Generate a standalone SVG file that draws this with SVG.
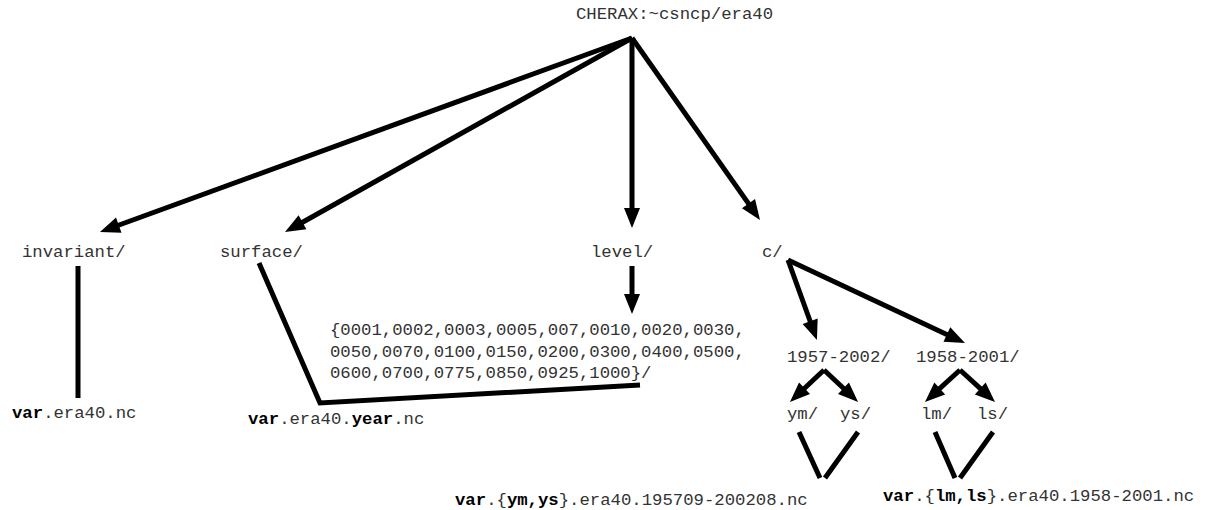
<svg xmlns="http://www.w3.org/2000/svg" width="1214" height="510" viewBox="0 0 1214 510">
<defs>
<marker id="ah" markerUnits="userSpaceOnUse" markerWidth="22" markerHeight="18" refX="4" refY="0" orient="auto" overflow="visible">
<path d="M0,-8 L20,0 L0,8 z" fill="#000"/>
</marker>
<style>
text{font-family:"Liberation Mono","Courier New",monospace;font-size:17.3px;fill:#333}
.b{font-weight:bold;fill:#000}
.c{fill:none;stroke:#000;stroke-width:5;stroke-linejoin:miter}
.a{marker-end:url(#ah)}
</style>
</defs>
<rect width="1214" height="510" fill="#fff"/>
<g id="connectors">
<line class="c a" x1="632" y1="38" x2="115" y2="226.5"/>
<line class="c a" x1="632" y1="38" x2="299" y2="224.2"/>
<line class="c a" x1="632" y1="38" x2="632" y2="212"/>
<line class="c a" x1="632" y1="38" x2="750.8" y2="206.9"/>
<line class="c" x1="78" y1="266" x2="78" y2="398"/>
<polyline class="c" points="259,263 320,403 640,385"/>
<line class="c a" x1="632" y1="266" x2="632" y2="298"/>
<line class="c a" x1="788" y1="260" x2="811.5" y2="325"/>
<line class="c a" x1="788" y1="260" x2="950.5" y2="336.2"/>
<line class="c a" x1="824" y1="370" x2="801.6" y2="391"/>
<line class="c a" x1="824" y1="370" x2="846.4" y2="391"/>
<line class="c a" x1="960" y1="370" x2="936.8" y2="391.2"/>
<line class="c a" x1="960" y1="370" x2="983.2" y2="391.2"/>
<line class="c" x1="799" y1="432" x2="820" y2="478"/>
<line class="c" x1="858" y1="432" x2="825" y2="478"/>
<line class="c" x1="935" y1="432" x2="955" y2="478"/>
<line class="c" x1="993" y1="432" x2="960" y2="478"/>
</g>
<g id="root"><text x="576" y="19">CHERAX:~csncp/era40</text></g>
<g id="invariant"><text x="22" y="257">invariant/</text></g>
<g id="surface"><text x="220" y="257">surface/</text></g>
<g id="level"><text x="591" y="257">level/</text></g>
<g id="c"><text x="762" y="257">c/</text></g>
<g id="levels">
<text x="330" y="335">{0001,0002,0003,0005,007,0010,0020,0030,</text>
<text x="330" y="357">0050,0070,0100,0150,0200,0300,0400,0500,</text>
<text x="330" y="378">0600,0700,0775,0850,0925,1000}/</text>
</g>
<g id="invfile"><text x="12" y="418"><tspan class="b">var</tspan>.era40.nc</text></g>
<g id="surffile"><text x="248" y="424"><tspan class="b">var</tspan>.era40.<tspan class="b">year</tspan>.nc</text></g>
<g id="y1957"><text x="787" y="362">1957-2002/</text></g>
<g id="y1958"><text x="916" y="362">1958-2001/</text></g>
<g id="ym"><text x="787" y="419">ym/</text></g>
<g id="ys"><text x="840" y="419">ys/</text></g>
<g id="lm"><text x="921" y="419">lm/</text></g>
<g id="ls"><text x="977" y="419">ls/</text></g>
<g id="file1957"><text x="455" y="505"><tspan class="b">var</tspan>.{<tspan class="b">ym,ys</tspan>}.era40.195709-200208.nc</text></g>
<g id="file1958"><text x="883" y="501"><tspan class="b">var</tspan>.{<tspan class="b">lm,ls</tspan>}.era40.1958-2001.nc</text></g>
</svg>
